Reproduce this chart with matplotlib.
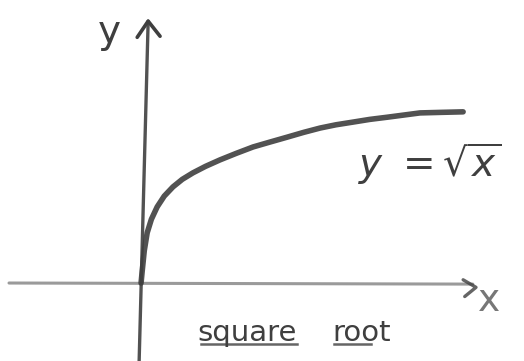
import numpy as np
import matplotlib.pyplot as plt

# hand-read points along the sketched curve (x, y in axis units)
curve_x = [0.0, 0.03, 0.10, 0.19, 0.32, 0.50, 0.72, 0.99, 1.28, 1.61, 2.00, 2.45,
           2.95, 3.48, 4.00, 4.53, 5.05, 5.56, 6.05, 6.58, 7.10, 7.64, 8.15, 8.66, 9.30, 10.0]
curve_y = [0.0, 0.19, 0.60, 0.93, 1.18, 1.41, 1.61, 1.78, 1.92, 2.04, 2.16, 2.28,
           2.40, 2.52, 2.61, 2.70, 2.79, 2.87, 2.93, 2.98, 3.03, 3.07, 3.11, 3.15, 3.16, 3.17]

# axis strokes: start and end of each line
x_axis_x = [-4.1, 10.3]
x_axis_y = [0.0, -0.02]
y_axis_x = [-0.06, 0.22]
y_axis_y = [-1.45, 4.85]

pencil_dark = '#3f3f3f'
pencil_light = '#9a9a9a'

fig = plt.figure(figsize=(5.24, 3.61), dpi=100)
ax = fig.add_axes([0, 0, 1, 1])
ax.set_xlim(-4.38, 11.89)
ax.set_ylim(-1.444, 5.241)
ax.axis('off')

# x axis (light grainy pencil) with chevron head
ax.plot(x_axis_x, x_axis_y, color=pencil_light, lw=2.2, solid_capstyle='round')
ax.plot([10.0, 10.4, 10.05], [0.06, -0.08, -0.25], color=pencil_dark, lw=2.4,
        alpha=0.8, solid_capstyle='round', solid_joinstyle='round')

# y axis (darker) with chevron head
ax.plot(y_axis_x, y_axis_y, color=pencil_dark, lw=2.4, alpha=0.9, solid_capstyle='round')
ax.plot([-0.12, 0.22, 0.59], [4.55, 4.85, 4.57], color=pencil_dark, lw=2.6,
        solid_capstyle='round', solid_joinstyle='round')

# the curve
ax.plot(curve_x, curve_y, color=pencil_dark, lw=4.0, alpha=0.9,
        solid_capstyle='round', solid_joinstyle='round')

# labels
ax.text(10.8, -0.33, 'x', fontsize=27, color='#777777', ha='center', va='center')
ax.text(-1.0, 4.65, 'y', fontsize=28, color=pencil_dark, ha='center', va='center')
ax.text(6.75, 2.2, r'$y\ =\sqrt{x}$', fontsize=28, color=pencil_dark,
        ha='left', va='center')

# "square root" caption with underlines
ax.text(1.75, -0.92, 'square', fontsize=21, color=pencil_dark, ha='left', va='center')
ax.text(5.95, -0.92, 'root', fontsize=21, color=pencil_dark, ha='left', va='center')
ax.plot([1.85, 4.85], [-1.12, -1.12], color=pencil_dark, lw=1.8, alpha=0.8)
ax.plot([6.0, 7.15], [-1.12, -1.12], color=pencil_dark, lw=1.8, alpha=0.8)

fig.savefig('out.png', dpi=100, facecolor='white')
